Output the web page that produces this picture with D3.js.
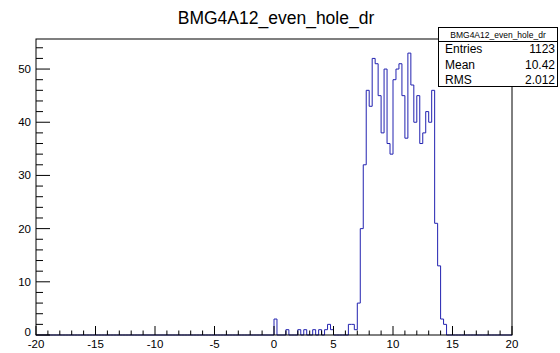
<!DOCTYPE html>
<html><head><meta charset="utf-8">
<script src="https://cdn.jsdelivr.net/npm/d3@7"></script>
<style>body{margin:0;background:#fff}svg{display:block}text{font-family:"Liberation Sans",Arial,Helvetica,sans-serif}</style>
</head><body>
<svg id="c" width="560" height="353"></svg>
<script>
const title = "BMG4A12_even_hole_dr";
const binWidth = 0.25;
const binLow = [0, 1, 2, 2.5, 3.25, 3.75, 4.25, 4.5, 4.75,
  6.25, 6.5, 6.75, 7, 7.25, 7.5, 7.75, 8, 8.25, 8.5, 8.75, 9, 9.25, 9.5, 9.75,
  10, 10.25, 10.5, 10.75, 11, 11.25, 11.5, 11.75, 12, 12.25, 12.5, 12.75, 13, 13.25, 13.5, 13.75, 14, 14.25];
const binCount = [3, 1, 1, 1, 1, 1, 1, 2, 1,
  2, 2, 1, 6, 20, 32, 46, 43, 52, 51, 45, 38, 50, 36, 34,
  48, 50, 51, 45, 37, 53, 47, 40, 45, 36, 38, 42, 40, 46, 21, 13, 3, 2];
const xTickLabels = [-20, -15, -10, -5, 0, 5, 10, 15, 20];
const yTickLabels = [0, 10, 20, 30, 40, 50];
const statNames = ["Entries", "Mean", "RMS"];
const statValues = ["1123", "10.42", "2.012"];

const svg = d3.select("#c");
const L = 36, R = 512, T = 39, B = 335;
const x = d3.scaleLinear().domain([-20, 20]).range([L, R]);
const yMax = d3.max(binCount) * 1.05;
const y = d3.scaleLinear().domain([0, yMax]).range([B, T]);

// title
svg.append("text").attr("x", 276).attr("y", 24).attr("text-anchor", "middle")
  .attr("font-size", 17.5).text(title);

// histogram step path
const lookup = new Map(binLow.map((b, i) => [b, binCount[i]]));
const nb = Math.round(40 / binWidth);
let d = `M${x(-20)},${y(0)}`;
for (let i = 0; i < nb; i++) {
  const lo = -20 + i * binWidth, hi = lo + binWidth;
  const c = lookup.get(lo) || 0;
  d += `L${x(lo)},${y(c)}L${x(hi)},${y(c)}`;
}
d += `L${x(20)},${y(0)}`;
svg.append("path").attr("d", d).attr("fill", "none").attr("stroke", "#2222b0").attr("stroke-width", 1);

// frame
svg.append("rect").attr("x", L).attr("y", T).attr("width", R - L).attr("height", B - T)
  .attr("fill", "none").attr("stroke", "#000").attr("stroke-width", 1);

// ticks
const g = svg.append("g").attr("stroke", "#000").attr("stroke-width", 1);
for (let v = -20; v <= 20; v++) {
  const major = v % 5 === 0;
  g.append("line").attr("x1", x(v)).attr("x2", x(v)).attr("y1", B).attr("y2", B - (major ? 9 : 4.5));
}
for (let v = 0; v <= 54; v += 2) {
  const major = v % 10 === 0;
  g.append("line").attr("x1", L).attr("x2", L + (major ? 14 : 7)).attr("y1", y(v)).attr("y2", y(v));
}
svg.selectAll(".xl").data(xTickLabels).enter().append("text")
  .attr("x", d => x(d)).attr("y", 348).attr("text-anchor", "middle").attr("font-size", 11.5).text(d => d);
svg.selectAll(".yl").data(yTickLabels).enter().append("text")
  .attr("x", 31).attr("y", d => y(d) + 4 - (d === 0 ? 3 : 0)).attr("text-anchor", "end").attr("font-size", 11.5).text(d => d);

// stats box
const sb = svg.append("g");
sb.append("rect").attr("x", 438.5).attr("y", 27.5).attr("width", 119).attr("height", 59)
  .attr("fill", "#fff").attr("stroke", "#000");
sb.append("line").attr("x1", 438.5).attr("x2", 557.5).attr("y1", 41.5).attr("y2", 41.5).attr("stroke", "#000");
sb.append("text").attr("x", 498).attr("y", 37.5).attr("text-anchor", "middle").attr("font-size", 8.5).text(title);
statNames.forEach((n, i) => {
  sb.append("text").attr("x", 445).attr("y", 53 + i * 15.5).attr("font-size", 12).text(n);
  sb.append("text").attr("x", 555).attr("y", 53 + i * 15.5).attr("text-anchor", "end").attr("font-size", 12).text(statValues[i]);
});
</script>
</body></html>
